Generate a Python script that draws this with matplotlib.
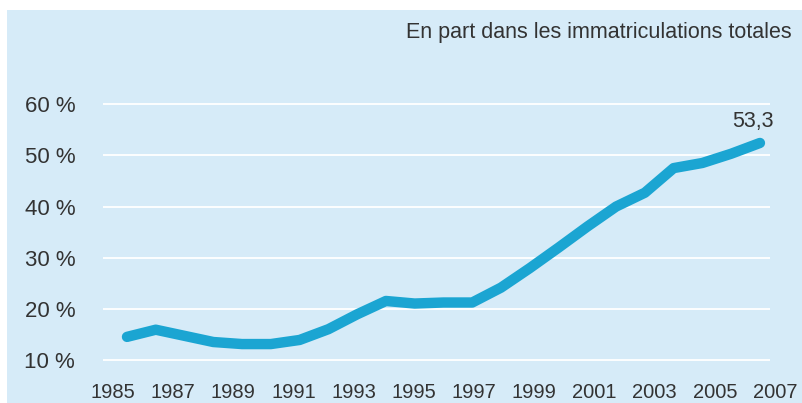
import matplotlib
matplotlib.use("Agg")
import matplotlib.pyplot as plt
from matplotlib import font_manager
from matplotlib.patches import Rectangle

# Share of total registrations (%)
years = list(range(1985, 2008))
share = [14.6, 16.0, 14.8, 13.6, 13.2, 13.2, 14.0, 16.1, 19.0, 21.6, 21.1,
         21.3, 21.3, 24.2, 28.0, 32.0, 36.1, 40.0, 42.7, 47.5, 48.5, 50.3, 52.4]
last_label = "53,3"
ytick_vals = [10, 20, 30, 40, 50, 60]
ytick_labels = [f"{v} %" for v in ytick_vals]
xtick_years = list(range(1985, 2008, 2))
title = "En part dans les immatriculations totales"

bg = "#d6ebf8"
line_color = "#1ba5d2"
text_color = "#333333"

names = {f.name for f in font_manager.fontManager.ttflist}
has_narrow = "Liberation Sans Narrow" in names
narrow = "Liberation Sans Narrow" if has_narrow else "Liberation Sans"
plt.rcParams["font.family"] = ["Liberation Sans", "DejaVu Sans"]

W, H = 803, 403
fig = plt.figure(figsize=(W / 100, H / 100), dpi=100)
fig.patch.set_facecolor("white")
fig.patches.append(Rectangle((7 / W, 0), 1 - 7 / W, 1 - 10 / H,
                             transform=fig.transFigure, facecolor=bg,
                             edgecolor="none", zorder=-5))

# main axes: gridlines span x 103..770 px
ax_l, ax_r = 103 / W, 770 / W
ax_b, ax_t = 1 - 375 / H, 1 - 95 / H
ax = fig.add_axes([ax_l, ax_b, ax_r - ax_l, ax_t - ax_b])
ax.set_facecolor("none")
ax.set_xlim(1984.166, 2007.35)
ax.set_ylim(7.17, 61.75)
for s in ax.spines.values():
    s.set_visible(False)
ax.set_yticks(ytick_vals)
ax.set_yticklabels(ytick_labels, fontsize=16, color=text_color)
ax.tick_params(axis="y", length=0, pad=20)
ax.set_xticks([])
ax.grid(axis="y", color="white", lw=1.3)
ax.set_axisbelow(True)

ax.plot(years, share, color=line_color, lw=7.5, solid_capstyle="round",
        solid_joinstyle="round", zorder=3)
ax.annotate(last_label, xy=(years[-1], share[-1]), xytext=(-7, 21),
            textcoords="offset pixels", ha="center", va="center",
            fontsize=15.5, color=text_color)

# year labels sit on their own slightly wider scale
ax2 = fig.add_axes([ax_l, ax_b, 800 / W - ax_l, ax_t - ax_b])
ax2.set_facecolor("none")
ax2.set_xlim(1984.668, 2007.831)
ax2.set_ylim(0, 1)
for s in ax2.spines.values():
    s.set_visible(False)
ax2.set_yticks([])
ax2.set_xticks(xtick_years)
ax2.set_xticklabels([str(y) for y in xtick_years],
                    fontsize=16 if has_narrow else 14.5,
                    color=text_color, family=narrow)
ax2.tick_params(axis="x", length=0, pad=6)

fig.text(792 / W, 1 - 38 / H, title, ha="right", va="baseline",
         fontsize=15.5, color=text_color)

fig.savefig("out.png", dpi=100)
